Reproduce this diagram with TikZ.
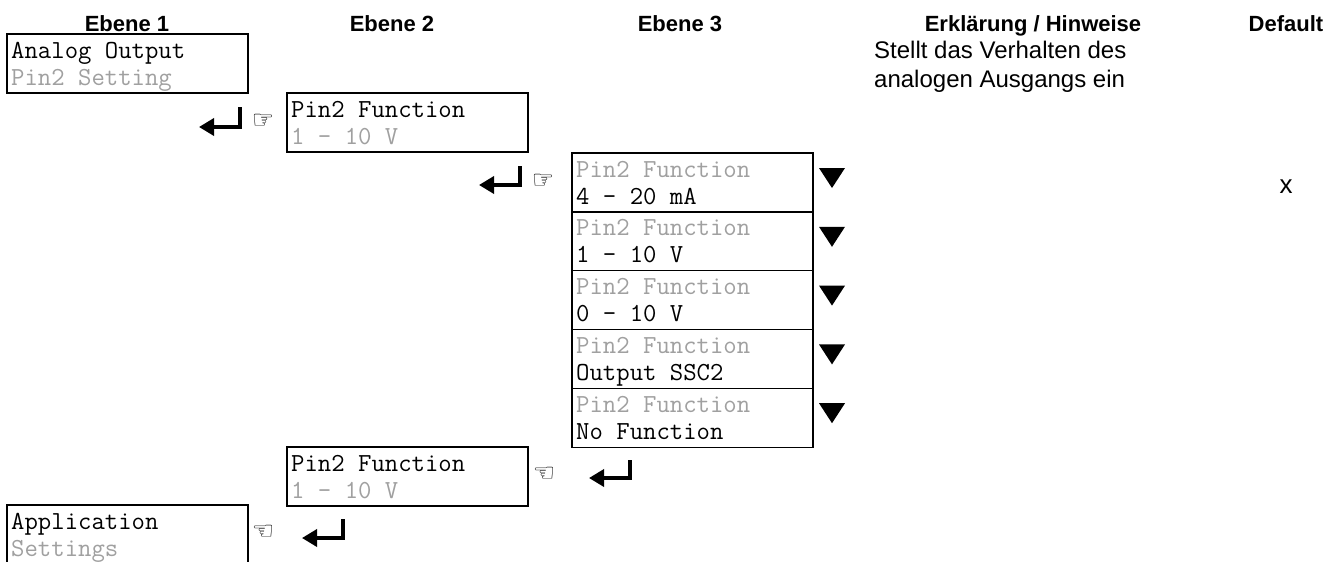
\documentclass[tikz,border=0pt]{standalone}
\usepackage{fontspec}
\setmainfont{Liberation Sans}
\newfontfamily\symfont{DejaVu Sans}
\usetikzlibrary{arrows.meta}
\definecolor{dimtext}{RGB}{160,160,160}
\tikzset{
 box/.style={draw=black, line width=1.1pt, anchor=north west, minimum width=241pt, minimum height=59pt, inner sep=0pt, outer sep=0pt},
 mono/.style={anchor=base west, inner sep=0pt, font=\ttfamily\fontsize{26}{30}\selectfont},
 dim/.style={mono, text=dimtext},
 head/.style={anchor=base, inner sep=0pt, font=\bfseries\fontsize{22}{26}\selectfont},
 note/.style={anchor=base west, inner sep=0pt, font=\fontsize{24}{29}\selectfont},
 hand/.style={inner sep=0pt, font=\symfont\fontsize{25}{25}\selectfont},
 ret/.style={line width=3.5pt, -{Triangle[length=15pt,width=17pt]}},
}
\begin{document}
\begin{tikzpicture}[x=1pt,y=-1pt]
\clip (0,0) rectangle (1323,562);
\fill[white] (0,0) rectangle (1323,562);
% headers
\node[head] (h1) at (127,31) {Ebene 1};
\node[head] (h2) at (392,31) {Ebene 2};
\node[head] (h3) at (680,31) {Ebene 3};
\node[head] (h4) at (1033,31) {Erklärung / Hinweise};
\node[head] (h5) at (1286,31) {Default};
% explanation
\node[note] (n1) at (874,58) {Stellt das Verhalten des};
\node[note] (n2) at (874,87) {analogen Ausgangs ein};
\node[note, anchor=base, font=\fontsize{26}{30}\selectfont] (dx) at (1286,193) {x};
% level 1 box
\node[box] (b1) at (7,34) {};
\node[mono] (b1t) at (11,58) {Analog Output};
\node[dim] (b1s) at (11,85) {Pin2 Setting};
% level 2 box
\node[box] (b2) at (287,93) {};
\node[mono] (b2t) at (291,117) {Pin2 Function};
\node[dim] (b2s) at (291,144) {1 - 10 V};
% level 3 stack
\foreach \i/\val in {0/4 - 20 mA, 1/1 - 10 V, 2/0 - 10 V, 3/Output SSC2, 4/No Function}{
  \node[box] (b3\i) at (572,{153+58.8*\i}) {};
  \node[dim] (b3t\i) at (576,{177+58.8*\i}) {Pin2 Function};
  \node[mono] (b3s\i) at (576,{204+58.8*\i}) {\val};
  \fill (819,{168+58.8*\i}) -- (845,{168+58.8*\i}) -- (832,{188+58.8*\i}) -- cycle;
}
% level 2 return box
\node[box] (b2r) at (287,447) {};
\node[mono] (b2rt) at (291,471) {Pin2 Function};
\node[dim] (b2rs) at (291,498) {1 - 10 V};
% level 1 return box
\node[box] (b1r) at (7,505) {};
\node[mono] (b1rt) at (11,529) {Application};
\node[dim] (b1rs) at (11,556) {Settings};
% hands
\node[hand] (p1) at (263,121) {☞};
\node[hand] (p2) at (543,181) {☞};
\node[hand] (p3) at (544,474) {☜};
\node[hand] (p4) at (263,532) {☜};
% return arrows
\coordinate (r1a) at (240,107); \coordinate (r1b) at (199,127);
\coordinate (r2a) at (520,166); \coordinate (r2b) at (479,185);
\coordinate (r3a) at (630,460); \coordinate (r3b) at (589,478);
\coordinate (r4a) at (343,519); \coordinate (r4b) at (302,538);
\draw[ret] (r1a) |- (r1b);
\draw[ret] (r2a) |- (r2b);
\draw[ret] (r3a) |- (r3b);
\draw[ret] (r4a) |- (r4b);
\end{tikzpicture}
\end{document}
